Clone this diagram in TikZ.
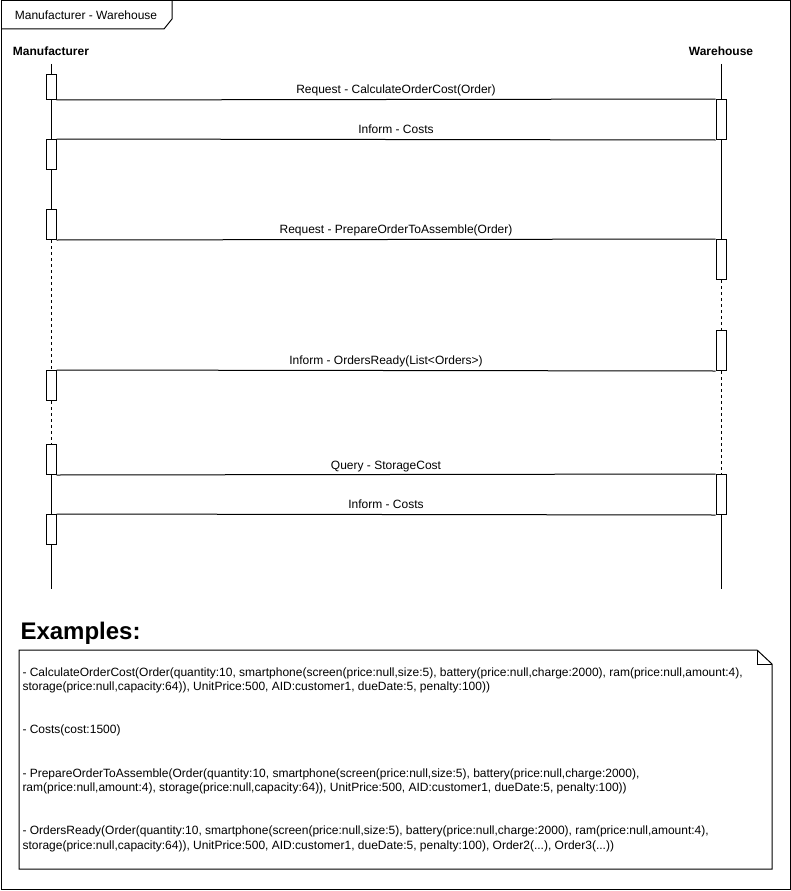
\documentclass[tikz,border=0pt]{standalone}
\usepackage{fontspec}
\setmainfont{Liberation Sans}
\begin{document}
\begin{tikzpicture}[
  x=1pt, y=-1pt,
  line width=1pt,
  %  Styles for the texts
  txt_style/.style={font=\fontsize{12}{14.4}\selectfont, inner sep=0pt},
  head_style/.style={txt_style, font=\fontsize{12}{14.4}\selectfont\bfseries, anchor=base},
  msg_style/.style={txt_style, midway, anchor=base, yshift=6pt},
  %  Activation boxes and lifelines
  act_style/.style={rectangle, draw=black, fill=white, inner sep=0pt, minimum width=10pt, anchor=north},
  dash_style/.style={dash pattern=on 3pt off 3pt}
]
\useasboundingbox (0,0) rectangle (791,891);

%  Frame with its tab
\draw (1,1) rectangle (790,889);
\draw (1,29) -- (164,29) -- (172,19) -- (172,1);
\node[txt_style, anchor=base] (frame_label) at (86,20) {Manufacturer - Warehouse};

%  Heads of the lifelines
\node[head_style] (man) at (51,56) {Manufacturer};
\node[head_style] (wh) at (721,56) {Warehouse};
\coordinate (m_top) at (51,64);
\coordinate (m_end) at (51,589);
\coordinate (w_top) at (721,64);
\coordinate (w_end) at (721,589);

%  Activation boxes, Manufacturer
\node[act_style, minimum height=25pt] (m1) at (51,74) {};
\node[act_style, minimum height=30pt] (m2) at (51,139) {};
\node[act_style, minimum height=30pt] (m3) at (51,209) {};
\node[act_style, minimum height=30pt] (m4) at (51,370) {};
\node[act_style, minimum height=30pt] (m5) at (51,444) {};
\node[act_style, minimum height=30pt] (m6) at (51,514) {};

%  Activation boxes, Warehouse
\node[act_style, minimum height=40pt] (w1) at (721,99) {};
\node[act_style, minimum height=40pt] (w2) at (721,239) {};
\node[act_style, minimum height=40pt] (w3) at (721,330) {};
\node[act_style, minimum height=40pt] (w4) at (721,474) {};

%  Lifelines
\draw (m_top) -- (m1.north) (m1.south) -- (m2.north) (m2.south) -- (m3.north);
\draw[dash_style] (m3.south) -- (m4.north) (m4.south) -- (m5.north);
\draw (m5.south) -- (m6.north) (m6.south) -- (m_end);
\draw (w_top) -- (w1.north) (w1.south) -- (w2.north);
\draw[dash_style] (w2.south) -- (w3.north) (w3.south) -- (w4.north);
\draw (w4.south) -- (w_end);

%  Messages
\draw (m1.south east) -- node[msg_style, xshift=10pt] {Request - CalculateOrderCost(Order)} (w1.north west);
\draw (w1.south west) -- node[msg_style, xshift=10pt] {Inform - Costs} (m2.north east);
\draw (m3.south east) -- node[msg_style, xshift=10pt] {Request - PrepareOrderToAssemble(Order)} (w2.north west);
\draw (w3.south west) -- node[msg_style] {Inform - OrdersReady(List<Orders>)} (m4.north east);
\draw (m5.south east) -- node[msg_style, yshift=-1pt] {Query - StorageCost} (w4.north west);
\draw (w4.south west) -- node[msg_style] {Inform - Costs} (m6.north east);

%  Examples note
\node[inner sep=0pt, anchor=base west, font=\fontsize{24}{28}\selectfont\bfseries] (examples) at (20,639) {Examples:};
\coordinate (n_nw) at (19,650);
\coordinate (n_fold) at (757,650);
\coordinate (n_ne) at (772,664);
\coordinate (n_se) at (772,869);
\coordinate (n_sw) at (19,869);
\draw (n_nw) -- (n_fold) -- (n_ne) -- (n_se) -- (n_sw) -- cycle;
\draw (n_fold) -- (n_fold |- n_ne) -- (n_ne);
\node[txt_style, anchor=north west, align=left] (note_text) at (22,667) {%
- CalculateOrderCost(Order(quantity:10, smartphone(screen(price:null,size:5), battery(price:null,charge:2000), ram(price:null,amount:4),\\
storage(price:null,capacity:64)), UnitPrice:500, AID:customer1, dueDate:5, penalty:100))\\[28.8pt]
- Costs(cost:1500)\\[28.8pt]
- PrepareOrderToAssemble(Order(quantity:10, smartphone(screen(price:null,size:5), battery(price:null,charge:2000),\\
ram(price:null,amount:4), storage(price:null,capacity:64)), UnitPrice:500, AID:customer1, dueDate:5, penalty:100))\\[28.8pt]
- OrdersReady(Order(quantity:10, smartphone(screen(price:null,size:5), battery(price:null,charge:2000), ram(price:null,amount:4),\\
storage(price:null,capacity:64)), UnitPrice:500, AID:customer1, dueDate:5, penalty:100), Order2(...), Order3(...))};
\end{tikzpicture}
\end{document}
